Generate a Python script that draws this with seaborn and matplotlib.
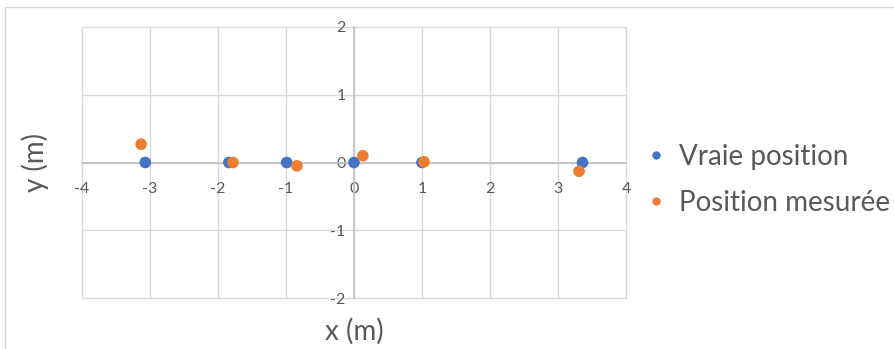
import pandas as pd
import matplotlib.pyplot as plt
import seaborn as sns
from matplotlib.patches import Rectangle
from matplotlib.lines import Line2D

# Values
true_x = [-3.07, -1.84, -0.99, 0.0, 1.0, 3.36]
true_y = [0.0, 0.0, 0.0, 0.0, 0.0, 0.0]
meas_x = [-3.13, -1.78, -0.84, 0.13, 1.03, 3.31]
meas_y = [0.27, 0.0, -0.05, 0.10, 0.01, -0.13]
series_names = ["Vraie position", "Position mesurée"]
x_ticks = [-4, -3, -2, -1, 0, 1, 2, 3, 4]
y_ticks = [-2, -1, 0, 1, 2]

df = pd.DataFrame({
    "x": true_x + meas_x,
    "y": true_y + meas_y,
    "serie": [series_names[0]] * len(true_x) + [series_names[1]] * len(meas_x),
})

sns.set_style("white")
plt.rcParams['font.family'] = ['Lato', 'DejaVu Sans']
plt.rcParams['axes.unicode_minus'] = False

colors = {series_names[0]: "#4472C4", series_names[1]: "#ED7D31"}
grey = "#595959"

fig = plt.figure(figsize=(8.94, 3.49), dpi=100)
ax = fig.add_axes([82 / 894, 1 - 298 / 349, (626 - 82) / 894, (298 - 27) / 349])

sns.scatterplot(data=df, x="x", y="y", hue="serie", palette=colors,
                s=70, linewidth=0, ax=ax, legend=False, zorder=3)

ax.set_xlim(-4, 4)
ax.set_ylim(-2, 2)
ax.set_xticks(x_ticks)
ax.set_yticks(y_ticks)
ax.grid(True, color="#d9d9d9", linewidth=1, clip_on=False)
ax.set_axisbelow(True)

for side in ["top", "right"]:
    ax.spines[side].set_visible(False)
for side in ["left", "bottom"]:
    ax.spines[side].set_position(("data", 0))
    ax.spines[side].set_color("#bfbfbf")
    ax.spines[side].set_linewidth(1.2)

ax.tick_params(length=0, labelsize=11.5, labelcolor=grey)
ax.tick_params(axis="x", pad=14)
ax.tick_params(axis="y", pad=6)

ax.set_xlabel("x (m)", fontsize=20, color=grey)
ax.set_ylabel("y (m)", fontsize=20, color=grey)
ax.xaxis.set_label_coords(0.5, -0.075)
ax.yaxis.set_label_coords(-0.06, 0.5)

handles = [Line2D([], [], marker="o", linestyle="", markersize=6,
                  markerfacecolor=colors[n], markeredgewidth=0) for n in series_names]
fig.legend(handles, series_names, loc="center left", bbox_to_anchor=(0.69, 0.485),
           frameon=False, fontsize=20, labelcolor=grey, handletextpad=0.35,
           labelspacing=0.73, handlelength=1.0)

# light chart border, as in the spreadsheet export
fig.patches.append(Rectangle((5 / 894, -0.1), 1.2, 1.1 - 7 / 349,
                             transform=fig.transFigure, fill=False,
                             edgecolor="#d9d9d9", linewidth=1))

fig.savefig("out.png", dpi=100)
